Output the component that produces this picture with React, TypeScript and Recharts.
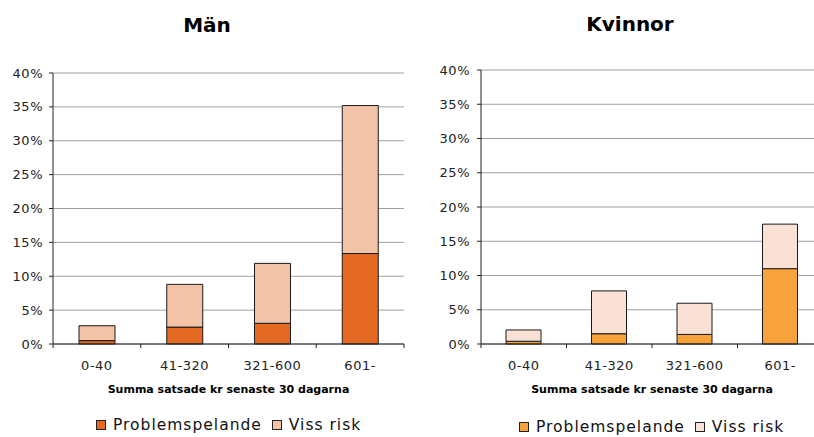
import React from 'react';
import { BarChart, Bar, XAxis, YAxis, CartesianGrid, Legend } from 'recharts';

const categories = ['0-40', '41-320', '321-600', '601-'];
const menProblem = [0.5, 2.5, 3.05, 13.35];
const menRisk = [2.2, 6.3, 8.85, 21.85];
const womenProblem = [0.4, 1.5, 1.4, 11.0];
const womenRisk = [1.65, 6.25, 4.55, 6.5];
const yTicks = [0, 5, 10, 15, 20, 25, 30, 35, 40];
const seriesNames = ['Problemspelande', 'Viss risk'];
const chartTitles = ['Män', 'Kvinnor'];
const xAxisTitle = 'Summa satsade kr senaste 30 dagarna';
const menColors = ['#E46A24', '#F2C3A6'];
const womenColors = ['#F8A23C', '#FAE1D5'];

const menData = categories.map((c, i) => ({ cat: c, problem: menProblem[i], risk: menRisk[i] }));
const womenData = categories.map((c, i) => ({ cat: c, problem: womenProblem[i], risk: womenRisk[i] }));

const XTick = (props: any) => {
  const { x, y, payload, index } = props;
  const half = payload && payload.offset ? payload.offset : 0;
  return (
    <g>
      {index === 0 && <line x1={x - half} x2={x - half} y1={y} y2={y + 4} stroke="#222" />}
      <line x1={x + half} x2={x + half} y1={y} y2={y + 4} stroke="#222" />
      <text x={x} y={y + 26} textAnchor="middle" fontSize={13} fill="#222" style={{ letterSpacing: 0.5 }}>
        {payload.value}
      </text>
    </g>
  );
};

const renderLegend = (props: any) => {
  const { payload } = props;
  return (
    <div style={{ display: 'flex', alignItems: 'center', fontSize: 15.5, letterSpacing: 1, color: '#111', whiteSpace: 'nowrap', lineHeight: '18px' }}>
      {(payload || []).map((e: any, i: number) => (
        <span key={i} style={{ display: 'inline-flex', alignItems: 'center', marginRight: i === 0 ? 10 : 0 }}>
          <svg width={10} height={10} style={{ marginRight: 7 }}>
            <rect x={0.5} y={0.5} width={9} height={9} fill={e.color} stroke="#222" />
          </svg>
          {e.value}
        </span>
      ))}
    </div>
  );
};

type PanelProps = {
  data: any[];
  colors: string[];
  width: number;
  marginTop: number;
  marginRight: number;
  yAxisWidth: number;
  barSize: number;
  legendTop: number;
  legendLeft: number;
  tickMargin: number;
};

const Panel = ({ data, colors, width, marginTop, marginRight, yAxisWidth, barSize, legendTop, legendLeft, tickMargin }: PanelProps) => (
  <BarChart width={width} height={437} data={data} margin={{ top: marginTop, right: marginRight, left: 0, bottom: 44 }}>
    <CartesianGrid vertical={false} stroke="#a0a0a0" />
    <XAxis
      dataKey="cat"
      height={49}
      tickLine={false}
      tickSize={0}
      tickMargin={0}
      axisLine={{ stroke: '#222' }}
      tick={<XTick />}
      interval={0}
      label={{ value: xAxisTitle, position: 'insideBottom', offset: 0, style: { fontWeight: 'bold', fontSize: 11, fill: '#000' } }}
    />
    <YAxis
      width={yAxisWidth}
      domain={[0, 40]}
      ticks={yTicks}
      interval={0}
      tickFormatter={(v: number) => `${v}%`}
      tickSize={4}
      tickMargin={tickMargin}
      axisLine={{ stroke: '#222' }}
      tickLine={{ stroke: '#222' }}
      tick={{ fontSize: 13, fill: '#222', style: { letterSpacing: 0.5 } }}
    />
    <Legend
      verticalAlign="middle"
      align="center"
      layout="horizontal"
      wrapperStyle={{ top: legendTop, left: legendLeft, width: 'auto', height: 'auto' }}
      content={renderLegend}
    />
    <Bar dataKey="problem" name={seriesNames[0]} stackId="a" fill={colors[0]} stroke="#1a1a1a" strokeWidth={1} barSize={barSize} isAnimationActive={false} />
    <Bar dataKey="risk" name={seriesNames[1]} stackId="a" fill={colors[1]} stroke="#1a1a1a" strokeWidth={1} barSize={barSize} isAnimationActive={false} />
  </BarChart>
);

const titleStyle: React.CSSProperties = {
  position: 'absolute',
  width: 200,
  textAlign: 'center',
  fontSize: 20,
  fontWeight: 'bold',
  lineHeight: '20px',
  color: '#000',
};

export default function App() {
  return (
    <div
      style={{
        position: 'absolute',
        left: 0,
        top: 0,
        width: 814,
        height: 437,
        overflow: 'hidden',
        background: '#fff',
        fontFamily: '"DejaVu Sans", Verdana, sans-serif',
      }}
    >
      <div style={{ position: 'absolute', left: 0, top: 0 }}>
        <Panel data={menData} colors={menColors} width={410} marginTop={73} marginRight={6} yAxisWidth={53} barSize={36} legendTop={416} legendLeft={96} tickMargin={6} />
      </div>
      <div style={{ position: 'absolute', left: 410, top: 0 }}>
        <Panel data={womenData} colors={womenColors} width={413} marginTop={70} marginRight={0} yAxisWidth={71} barSize={35} legendTop={418} legendLeft={109} tickMargin={7} />
      </div>
      <div style={{ ...titleStyle, left: 107, top: 15 }}>{chartTitles[0]}</div>
      <div style={{ ...titleStyle, left: 530, top: 14 }}>{chartTitles[1]}</div>
    </div>
  );
}
